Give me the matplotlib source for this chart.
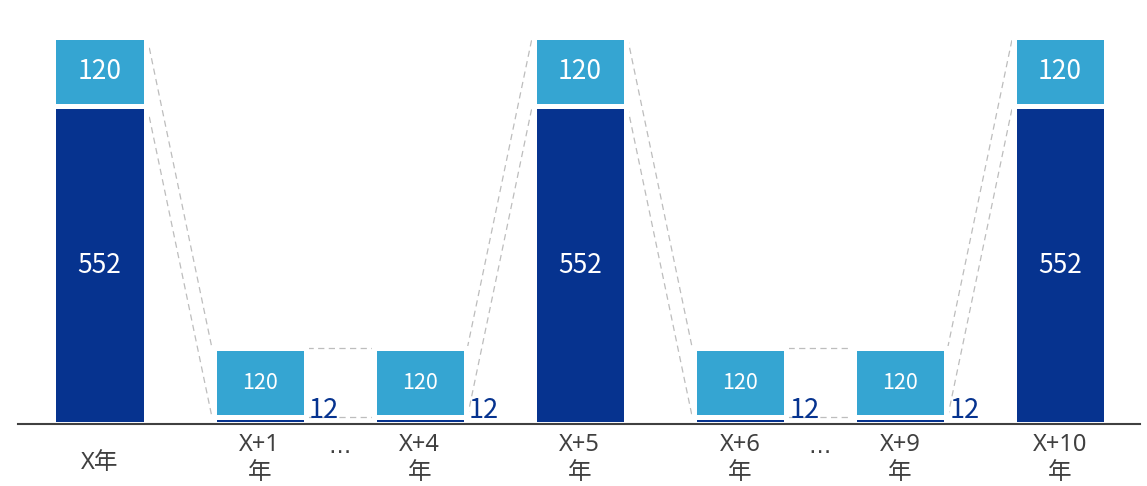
import numpy as np
import matplotlib.pyplot as plt

plt.rcParams['font.family'] = ['Noto Sans CJK JP', 'DejaVu Sans']

years = ['X年', 'X+1\n年', 'X+4\n年', 'X+5\n年', 'X+6\n年', 'X+9\n年', 'X+10\n年']
base_vals = [552, 12, 12, 552, 12, 12, 552]
top_vals = [120, 120, 120, 120, 120, 120, 120]
skipped_after = [1, 4]   # an ellipsis sits between these bars and the next one

dark = '#06338F'
light = '#35A5D2'
text_gray = '#404040'
dash_gray = '#BDBDBD'

fig = plt.figure(figsize=(11.47, 4.86), dpi=100)
ax = fig.add_axes([18 / 1147, 62 / 486, (1140 - 18) / 1147, 424 / 486])

x = np.arange(len(years))
w = 0.575
base = np.array(base_vals)
top = np.array(top_vals)
total = base + top

ax.bar(x, base, width=w, color=dark, edgecolor='white', linewidth=3.6)
ax.bar(x, top, width=w, bottom=base, color=light, edgecolor='white', linewidth=3.6)

# dashed connectors between neighbouring bars
for i in range(len(x) - 1):
    for y0, y1 in [(total[i], total[i + 1]), (base[i], base[i + 1])]:
        ax.plot([x[i] + w / 2 + 0.01, x[i + 1] - w / 2 - 0.01], [y0, y1],
                color=dash_gray, lw=0.9, ls=(0, (5, 3.5)), zorder=0)

for i in range(len(x)):
    big = base[i] > 100
    ax.text(x[i], base[i] + top[i] / 2, str(top[i]), color='white',
            ha='center', va='center', fontsize=19 if big else 15.5)
    if big:
        ax.text(x[i], base[i] / 2, str(base[i]), color='white',
                ha='center', va='center', fontsize=19)
    else:
        ax.text(x[i] + w / 2 + 0.02, 10, str(base[i]), color=dark,
                ha='left', va='baseline', fontsize=19.5)

# category labels: single-line ones centred, wrapped ones hang from the top
lab_tf = ax.get_xaxis_transform()
for i, lab in enumerate(years):
    two = '\n' in lab
    ax.text(x[i], -0.022 if two else -0.092, lab, transform=lab_tf,
            ha='center', va='top' if two else 'center',
            fontsize=17, color=text_gray, linespacing=1.2,
            family=['Noto Sans', 'Noto Sans CJK JP'])
for i in skipped_after:
    ax.text(x[i] + 0.5, -0.055, '…', transform=lab_tf, ha='center',
            va='center', fontsize=16, color=text_gray, family='DejaVu Sans')

ax.set_xlim(-0.509, 6.499)
ax.set_ylim(0, 737)
for s in ['top', 'right', 'left']:
    ax.spines[s].set_visible(False)
ax.spines['bottom'].set_color(text_gray)
ax.spines['bottom'].set_linewidth(1.5)
ax.set_xticks([])
ax.set_yticks([])

fig.savefig('out.png', dpi=100)
